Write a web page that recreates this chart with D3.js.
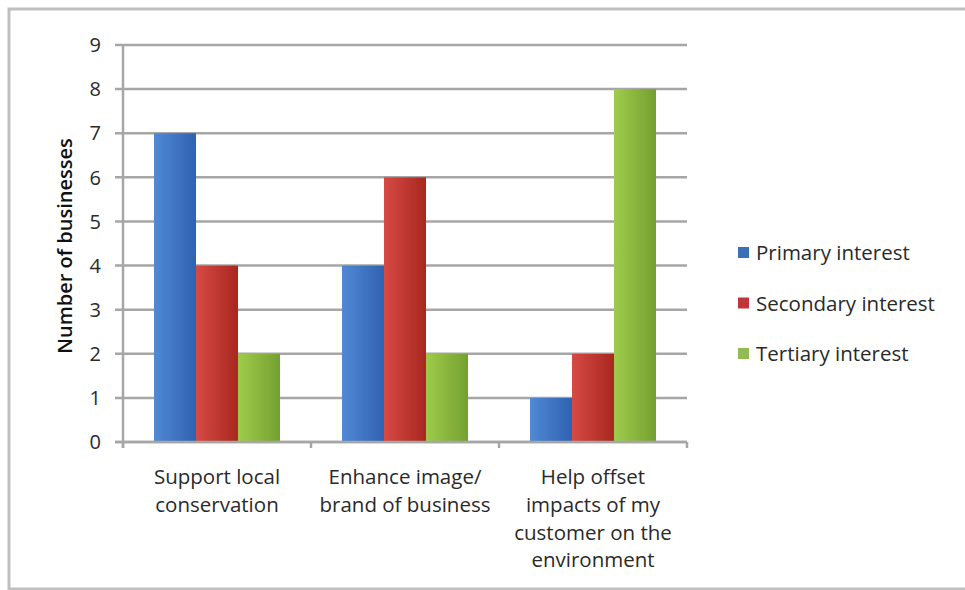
<!DOCTYPE html>
<html><head><meta charset="utf-8">
<script src="https://cdn.jsdelivr.net/npm/d3@7/dist/d3.min.js"></script>
<style>body{margin:0;background:#fff;} svg{display:block;}</style>
</head><body>
<svg id="c" width="965" height="590"></svg>
<script>
const categories = [
  ["Support local", "conservation"],
  ["Enhance image/", "brand of business"],
  ["Help offset", "impacts of my", "customer on the", "environment"]
];
const seriesNames = ["Primary interest", "Secondary interest", "Tertiary interest"];
const primary = [7, 4, 1];
const secondary = [4, 6, 2];
const tertiary = [2, 2, 8];
const yTicks = [0,1,2,3,4,5,6,7,8,9];
const colors = [["#5189d6","#2f62b0"],["#d64a44","#a8271f"],["#9fcb4c","#74a030"]];
const legendColors = ["#3b6fb8","#c0353a","#93bb55"];

const series = [primary, secondary, tertiary];
const svg = d3.select("#c");
const font = "'Open Sans', 'Liberation Sans', sans-serif";

// outer border
svg.append("rect").attr("x",9).attr("y",9).attr("width",980).attr("height",580)
  .attr("fill","#fff").attr("stroke","#bfbfbf").attr("stroke-width",3);

const defs = svg.append("defs");
colors.forEach((c,i)=>{
  const g = defs.append("linearGradient").attr("id","g"+i).attr("x1","0").attr("x2","1").attr("y1","0").attr("y2","0");
  g.append("stop").attr("offset","0").attr("stop-color",c[0]);
  g.append("stop").attr("offset","1").attr("stop-color",c[1]);
});

const pL = 123, pR = 687, pT = 45, pB = 442;
const x = d3.scaleBand().domain(d3.range(categories.length)).range([pL,pR]).paddingInner(0).paddingOuter(0);
const y = d3.scaleLinear().domain([0,9]).range([pB,pT]);
const gap = x.bandwidth()*62/188/2;
const xs = d3.scaleBand().domain(d3.range(series.length)).range([gap, x.bandwidth()-gap]);

// gridlines
svg.append("g").selectAll("line").data(yTicks).join("line")
  .attr("x1",pL-8).attr("x2",pR).attr("y1",d=>y(d)).attr("y2",d=>y(d))
  .attr("stroke","#a6a6a6").attr("stroke-width",2.5);

// y axis line
svg.append("line").attr("x1",pL).attr("x2",pL).attr("y1",pT).attr("y2",pB+6)
  .attr("stroke","#a6a6a6").attr("stroke-width",2.5);
// x axis ticks
svg.append("g").selectAll("line").data(d3.range(categories.length+1)).join("line")
  .attr("x1",d=>pL + d*x.bandwidth()).attr("x2",d=>pL + d*x.bandwidth())
  .attr("y1",pB).attr("y2",pB+6).attr("stroke","#a6a6a6").attr("stroke-width",2.5);

// bars
series.forEach((s,si)=>{
  svg.append("g").selectAll("rect").data(s).join("rect")
    .attr("x",(d,i)=>x(i)+xs(si)).attr("width",xs.bandwidth())
    .attr("y",d=>y(d)).attr("height",d=>pB-y(d))
    .attr("fill","url(#g"+si+")");
});
// axis baseline on top
svg.append("line").attr("x1",pL-8).attr("x2",pR).attr("y1",pB).attr("y2",pB)
  .attr("stroke","#a6a6a6").attr("stroke-width",2.5);

// y tick labels
svg.append("g").selectAll("text").data(yTicks).join("text")
  .attr("x",101).attr("y",d=>y(d)).attr("dy","0.36em").attr("text-anchor","end")
  .attr("font-family",font).attr("font-size",20).attr("fill","#2a2a2a").text(d=>d);

// y title
svg.append("text").attr("transform","translate(72,246) rotate(-90)")
  .attr("text-anchor","middle").attr("font-family",font).attr("font-size",20).attr("font-weight","600")
  .attr("fill","#111").text("Number of businesses");

// x labels
categories.forEach((lines,i)=>{
  const t = svg.append("text").attr("text-anchor","middle").attr("font-family",font)
    .attr("font-size",20.5).attr("fill","#2a2a2a");
  lines.forEach((l,j)=>{
    t.append("tspan").attr("x",x(i)+x.bandwidth()/2).attr("y",477+j*27.7).attr("dy","0.36em").text(l);
  });
});

// legend
const lg = svg.append("g");
seriesNames.forEach((n,i)=>{
  const ly = 253 + i*50.5;
  lg.append("rect").attr("x",738).attr("y",ly-6).attr("width",11).attr("height",11).attr("fill",legendColors[i]);
  lg.append("text").attr("x",756).attr("y",ly).attr("dy","0.36em").attr("font-family",font)
    .attr("font-size",20.5).attr("fill","#2a2a2a").text(n);
});
</script>
</body></html>
